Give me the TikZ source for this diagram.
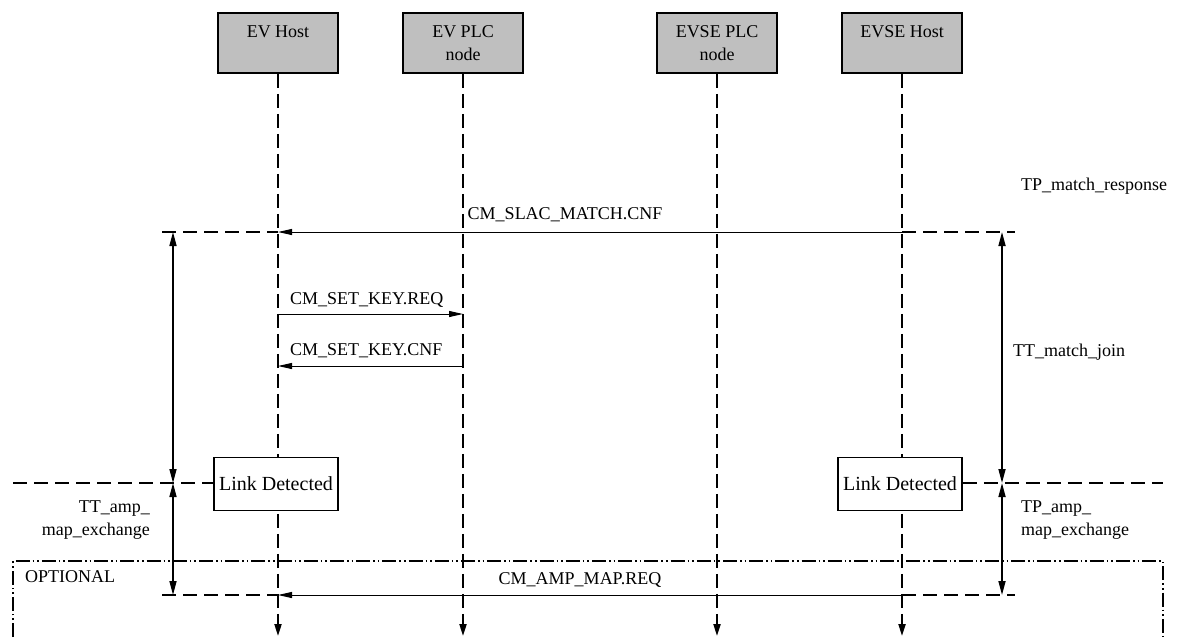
\documentclass[tikz,border=0pt]{standalone}
\usepackage{fontspec}
\setmainfont{Liberation Serif}
\usetikzlibrary{arrows.meta,positioning}

\begin{document}
\begin{tikzpicture}[x=0.5pt,y=-0.5pt,font=\fontsize{9}{11.5}\selectfont,
  entity/.style={draw,line width=0.8pt,fill=gray!50,minimum width=60pt,minimum height=30pt,inner sep=0pt},
  detect/.style={draw,line width=0.8pt,fill=white,minimum width=62pt,minimum height=26.5pt,inner sep=0pt,font=\fontsize{10}{12}\selectfont},
  lifeline/.style={line width=1pt,dash pattern=on 7pt off 3pt,-{Triangle[length=6pt,width=3.5pt]}},
  msg/.style={line width=0.5pt,-{Triangle[length=7pt,width=3pt]}},
  span/.style={line width=0.8pt,{Triangle[length=7pt,width=3.5pt]}-{Triangle[length=7pt,width=3.5pt]}},
  mark line/.style={line width=0.8pt,dash pattern=on 7pt off 3.5pt},
  optbox/.style={line width=0.8pt,dash pattern=on 7pt off 1.5pt on 0.8pt off 1.5pt on 0.8pt off 1.5pt}]
  \useasboundingbox (0,0) rectangle (1182,638);
  % entities
  \node[entity,label={[anchor=north,yshift=-3pt]north:EV Host}] (evhost) at (278,43) {};
  \node[entity,label={[anchor=north,yshift=-3pt,align=center]north:EV PLC\\node}] (evplc) at (463,43) {};
  \node[entity,label={[anchor=north,yshift=-3pt,align=center]north:EVSE PLC\\node}] (evseplc) at (717,43) {};
  \node[entity,label={[anchor=north,yshift=-3pt]north:EVSE Host}] (evsehost) at (902,43) {};
  % lifelines
  \coordinate (evhostend) at (278,636);
  \coordinate (evplcend) at (463,636);
  \coordinate (evseplcend) at (717,636);
  \coordinate (evsehostend) at (902,636);
  \draw[lifeline] (evhost.south) -- (evhostend);
  \draw[lifeline] (evplc.south) -- (evplcend);
  \draw[lifeline] (evseplc.south) -- (evseplcend);
  \draw[lifeline] (evsehost.south) -- (evsehostend);
  % optional region
  \coordinate (optbl) at (13,637);
  \coordinate (opttl) at (13,561);
  \coordinate (opttr) at (1163,561);
  \coordinate (optbr) at (1163,637);
  \draw[optbox] (optbl) -- (opttl) -- (opttr) -- (optbr);
  \node[anchor=west] (optional) at (18,577) {OPTIONAL};
  % link detected
  \node[detect] (evlink) at (276,484) {Link Detected};
  \node[detect] (evselink) at (900,484) {Link Detected};
  % time marks
  \coordinate (lmatch) at (162,232);
  \coordinate (rmatch) at (1015,232);
  \coordinate (llink) at (13,483);
  \coordinate (rlink) at (1163,483);
  \coordinate (lamp) at (162,595);
  \coordinate (ramp) at (1015,595);
  \draw[mark line] (lmatch) -- (evhost.south |- lmatch);
  \draw[mark line] (evsehost.south |- rmatch) -- (rmatch);
  \draw[mark line] (llink) -- (evlink.west |- llink);
  \draw[mark line] (evselink.east |- rlink) -- (rlink);
  \draw[mark line] (lamp) -- (evhost.south |- lamp);
  \draw[mark line] (evsehost.south |- ramp) -- (ramp);
  % messages
  \draw[msg] (evsehost.south |- lmatch) -- (evhost.south |- lmatch);
  \node (slacmatch) at (565,215) {CM\_SLAC\_MATCH.CNF};
  \draw[msg] (evhost.south |- 0,314) -- (evplc.south |- 0,314);
  \node[anchor=west] (setkeyreq) at (283,300) {CM\_SET\_KEY.REQ};
  \draw[msg] (evplc.south |- 0,366) -- (evhost.south |- 0,366);
  \node[anchor=west] (setkeycnf) at (283,351) {CM\_SET\_KEY.CNF};
  \draw[msg] (evsehost.south |- lamp) -- (evhost.south |- lamp);
  \node (ampmap) at (580,580) {CM\_AMP\_MAP.REQ};
  % timers
  \draw[span] (173,232) -- (173,483);
  \draw[span] (173,483) -- (173,595);
  \draw[span] (1002,232) -- (1002,483);
  \draw[span] (1002,483) -- (1002,595);
  \node[anchor=west] (tpmatch) at (1014,186) {TP\_match\_response};
  \node[anchor=west] (ttjoin) at (1006,352) {TT\_match\_join};
  \node[anchor=east,align=right] (ttamp) at (157,520) {TT\_amp\_\\map\_exchange};
  \node[anchor=west,align=left] (tpamp) at (1014,520) {TP\_amp\_\\map\_exchange};
\end{tikzpicture}
\end{document}
